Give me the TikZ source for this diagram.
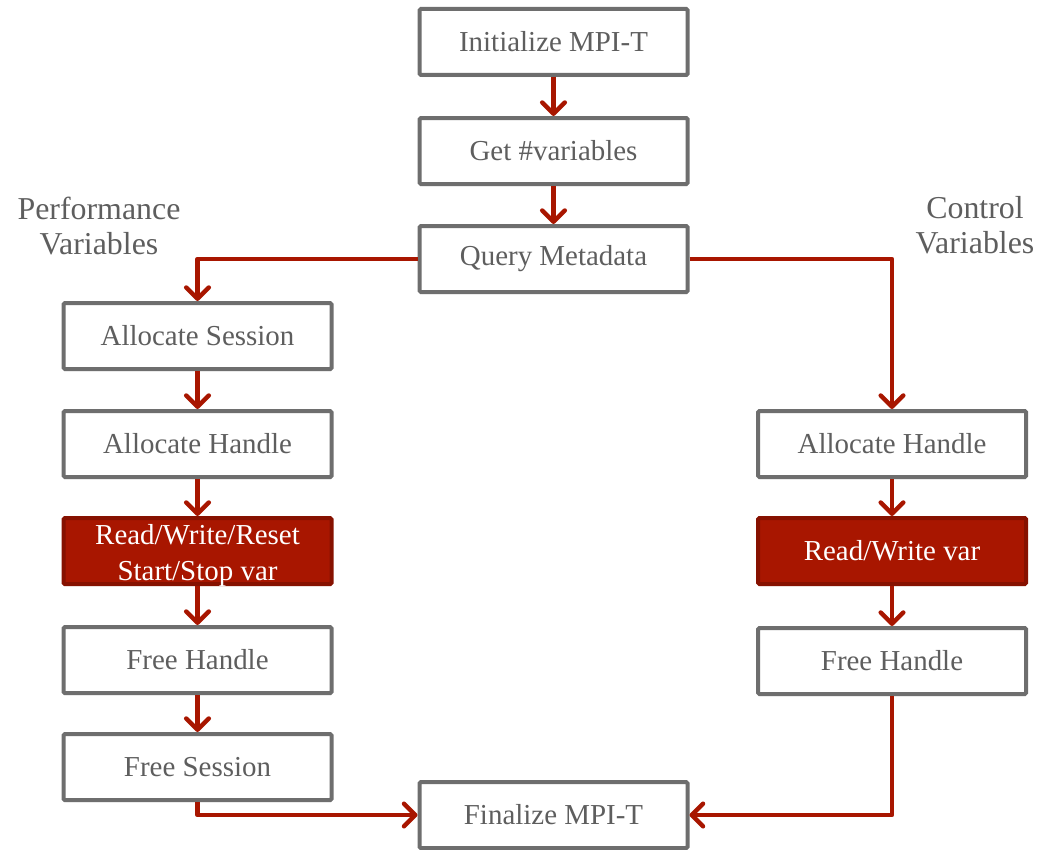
\documentclass[tikz,border=0pt]{standalone}
\usepackage{fontspec}
\setmainfont{Liberation Serif}
\usetikzlibrary{arrows.meta,shadows}
\definecolor{boxgray}{HTML}{6E6E6E}
\definecolor{txtgray}{HTML}{5E5E5E}
\definecolor{flowred}{HTML}{A81600}
\definecolor{redborder}{HTML}{861100}
\begin{document}
\begin{tikzpicture}[x=0.75pt,y=-0.75pt,
  stepbox/.style={draw=boxgray, line width=3pt, fill=white,
    minimum width=201pt, minimum height=49.5pt, inner sep=0pt,
    text=txtgray, font=\fontsize{21.7}{27}\selectfont, align=center,
    rounded corners=1pt,
    drop shadow={opacity=0.18, shadow xshift=0.6pt, shadow yshift=-1.6pt}},
  actbox/.style={stepbox, draw=redborder, fill=flowred, text=white},
  flow/.style={draw=flowred, line width=3.3pt, line join=round,
    -{Straight Barb[length=8.5pt,width=17pt,line cap=round,line join=round]}},
  note/.style={text=txtgray, font=\fontsize{23.9}{26.5}\selectfont, align=center}]
\useasboundingbox (0,0) rectangle (1038,849);

% central column
\node[stepbox] (init)  at (553.5,42)  {Initialize MPI-T};
\node[stepbox] (get)   at (553.5,151) {Get \#variables};
\node[stepbox] (query) at (553.5,259) {Query Metadata};
\node[stepbox] (fin)   at (553.5,815) {Finalize MPI-T};

% performance variables
\node[stepbox] (asess) at (197.5,336) {Allocate Session};
\node[stepbox] (lah)   at (197.5,444) {Allocate Handle};
\node[actbox]  (lrw)   at (197.5,551)
  {\raisebox{-3.5pt}[\height][\depth]{\parbox{190pt}{\centering Read/Write/Reset\\Start/Stop var}}};
\node[stepbox] (lfh)   at (197.5,660) {Free Handle};
\node[stepbox] (fsess) at (197.5,767) {Free Session};

% control variables
\node[stepbox] (rah)   at (892,444) {Allocate Handle};
\node[actbox]  (rrw)   at (892,551) {Read/Write var};
\node[stepbox] (rfh)   at (892,661) {Free Handle};

% column headings
\node[note] (perf) at (99,226)  {Performance\\Variables};
\node[note] (ctrl) at (975,225) {Control\\Variables};

% connectors
\draw[flow] (init) -- (get);
\draw[flow] (get) -- (query);
\draw[flow] (query.west) -| (asess.north);
\draw[flow] (query.east) -| (rah.north);
\draw[flow] (asess) -- (lah);
\draw[flow] (lah) -- (lrw);
\draw[flow] (lrw) -- (lfh);
\draw[flow] (lfh) -- (fsess);
\draw[flow] (rah) -- (rrw);
\draw[flow] (rrw) -- (rfh);
\draw[flow] (fsess.south) |- (fin.west);
\draw[flow] (rfh.south) |- (fin.east);
\end{tikzpicture}
\end{document}
